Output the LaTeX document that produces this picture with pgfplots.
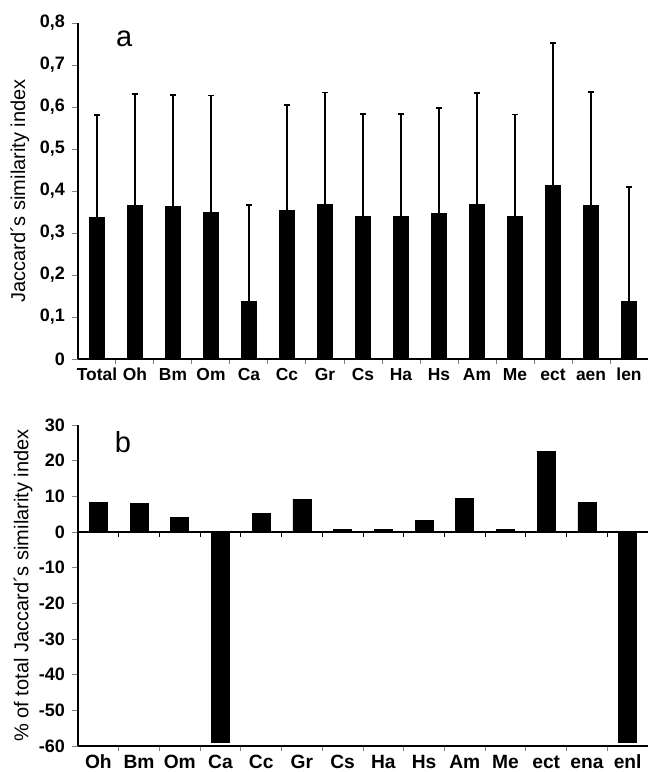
\documentclass[border=0pt]{standalone}
\usepackage{fontspec}
\setmainfont{Liberation Sans}
\usepackage{pgfplots}
\pgfplotsset{compat=1.18}

\pgfplotsset{
  jac/.style={
    scale only axis, width=285pt,
    axis x line*=bottom, axis y line*=left,
    axis line style={-, line width=0.6pt},
    tick align=outside,
    major x tick style={draw=none},
    minor x tick style={line width=0.5pt},
    minor tick length=2.5pt,
    major tick length=3pt,
    ytick style={line width=0.5pt},
    /pgf/number format/assume math mode=true,
    yticklabel style={font=\bfseries\fontsize{9}{10}\selectfont},
    ylabel style={font=\fontsize{10}{12}\selectfont},
    ybar, bar width=7.5pt,
    clip=false,
  }
}

\begin{document}
\begin{tikzpicture}
\path[use as bounding box] (0,0) rectangle (324.5pt,-386pt);

% panel a
\begin{axis}[jac, at={(39pt,-179.5pt)}, anchor=south west, height=168pt,
  xmin=-0.5, xmax=14.5, ymin=0, ymax=0.8,
  ytick={0,0.1,...,0.8},
  yticklabel style={/pgf/number format/.cd, fixed, precision=1, use comma},
  xtick={0,...,14},
  xticklabels={Total,Oh,Bm,Om,Ca,Cc,Gr,Cs,Ha,Hs,Am,Me,ect,aen,len},
  minor xtick={0.5,1.5,...,13.5},
  xticklabel style={font=\bfseries\fontsize{8.7}{10}\selectfont, inner sep=1pt,
    text height=6.5pt, text depth=0pt},
  ylabel={Jaccard´s similarity index},
  ylabel style={at={(axis description cs:-0.102,0.5)}, anchor=center}]
\addplot[fill=black, draw=black,
  error bars/.cd, y dir=plus, y explicit, error mark=-,
  error bar style={line width=0.8pt, black},
  error mark options={rotate=90, line width=0.8pt, mark size=1.6pt, black}]
  coordinates {
  (0,0.338) +- (0,0.243)
  (1,0.365) +- (0,0.266)
  (2,0.363) +- (0,0.266)
  (3,0.349) +- (0,0.278)
  (4,0.137) +- (0,0.230)
  (5,0.353) +- (0,0.252)
  (6,0.367) +- (0,0.268)
  (7,0.339) +- (0,0.245)
  (8,0.339) +- (0,0.245)
  (9,0.347) +- (0,0.250)
  (10,0.367) +- (0,0.266)
  (11,0.339) +- (0,0.243)
  (12,0.413) +- (0,0.339)
  (13,0.365) +- (0,0.271)
  (14,0.137) +- (0,0.272)
  };
\node[font=\fontsize{14.5}{16}\selectfont] at (rel axis cs:0.081,0.952) {a};
\end{axis}

% panel b
\begin{axis}[jac, at={(39pt,-373pt)}, anchor=south west, height=160.5pt,
  xmin=-0.5, xmax=13.5, ymin=-60, ymax=30,
  ytick={-60,-50,...,30},
  xtick={0,...,13},
  xticklabels={Oh,Bm,Om,Ca,Cc,Gr,Cs,Ha,Hs,Am,Me,ect,ena,enl},
  minor xtick={0.5,1.5,...,12.5},
  xticklabel style={font=\bfseries\fontsize{9.6}{11}\selectfont, inner sep=1pt,
    text height=7pt, text depth=0pt},
  bar width=9pt,
  ylabel={\% of total Jaccard´s similarity index},
  ylabel style={at={(axis description cs:-0.0965,0.5)}, anchor=center}]
\addplot[fill=black, draw=black] coordinates {
  (0,8.4) (1,7.9) (2,4.0) (3,-59.1) (4,5.1) (5,9.2) (6,0.7)
  (7,0.7) (8,3.2) (9,9.4) (10,0.7) (11,22.7) (12,8.4) (13,-59.1)
  };
\draw[line width=0.6pt] (axis cs:-0.5,0) -- (axis cs:13.5,0);
\pgfplotsinvokeforeach{0.5,1.5,...,12.5}{
  \draw[line width=0.5pt] (axis cs:#1,0) -- ([yshift=-2.5pt]axis cs:#1,0);
}
\node[font=\fontsize{14.5}{16}\selectfont] at (rel axis cs:0.079,0.948) {b};
\end{axis}
\end{tikzpicture}
\end{document}
